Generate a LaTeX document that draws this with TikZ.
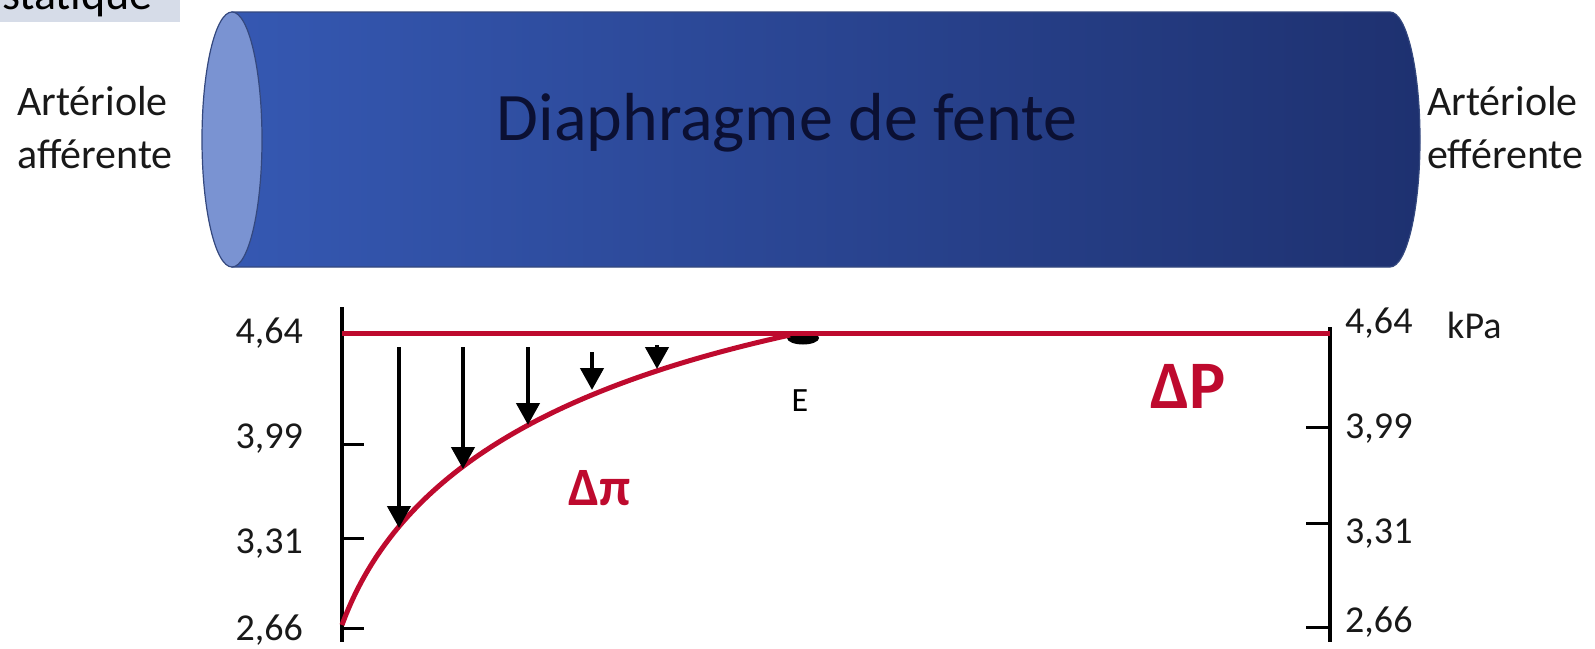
\documentclass[tikz,border=0pt]{standalone}
\usepackage{fontspec}
\setmainfont{Carlito}
\usepackage{tikz}
\usetikzlibrary{positioning,shapes.geometric,arrows.meta,calc}
\definecolor{tubeleft}{HTML}{3558B2}
\definecolor{tuberight}{HTML}{1E3170}
\definecolor{tubeface}{HTML}{7A93D2}
\definecolor{tubeedge}{HTML}{34487E}
\definecolor{curvered}{HTML}{BE0A2E}
\definecolor{banner}{HTML}{D6DCE8}
\definecolor{ink}{HTML}{0B1033}
\tikzset{
    axislabel/.style={font=\fontsize{38}{40}\selectfont, inner sep=0pt, text=black!90},
    sidelabel/.style={font=\fontsize{42}{44}\selectfont, inner sep=0pt, anchor=base west, text=black!90},
    axisline/.style={line width=3.5pt, black},
    axtick/.style={line width=3pt, black},
    pressure/.style={line width=5pt, color=curvered},
    droparrow/.style={-{Triangle[width=23pt,length=22pt]}, line width=4.5pt, black},
    deltalabel/.style={font=\bfseries, text=curvered, inner sep=0pt}
}
\begin{document}
\begin{tikzpicture}[x=1pt, y=-1pt]
\useasboundingbox (0,0) rectangle (1595,648);
\begin{scope}
\clip (0,0) rectangle (1595,648);
\fill[banner] (0,-5) rectangle (180,22);
\node[font=\fontsize{46}{50}\selectfont, anchor=base east, inner sep=0pt] (banner) at (153,9) {statique};
\end{scope}

\draw[tubeedge, line width=1.2pt, left color=tubeleft, middle color=tubeleft!80!tuberight, right color=tuberight]
    (232,12) -- (1390,12) arc[start angle=90, end angle=-90, x radius=30pt, y radius=127.5pt] -- (232,267) -- cycle;
\draw[tubeedge, line width=1.2pt, fill=tubeface] (232,139.5) ellipse[x radius=30pt, y radius=127.5pt];
\node[font=\fontsize{68}{72}\selectfont, text=ink, anchor=base, inner sep=0pt] (diaph) at (787,140) {Diaphragme de fente};

\node[sidelabel] (affA) at (17,115) {Artériole};
\node[sidelabel] (affB) at (17,168) {afférente};
\node[sidelabel] (effA) at (1427,115) {Artériole};
\node[sidelabel] (effB) at (1427,168) {efférente};

\coordinate (ltop) at (342,307);
\coordinate (lbot) at (342,642);
\coordinate (rtop) at (1330,327);
\coordinate (rbot) at (1330,642);
\draw[axisline] (ltop) -- (lbot);
\draw[axisline] (rtop) -- (rbot);
\draw[axtick] (342,444) -- (364,444);
\draw[axtick] (342,538) -- (364,538);
\draw[axtick] (342,628) -- (364,628);
\draw[axtick] (1306,427) -- (1330,427);
\draw[axtick] (1306,523) -- (1330,523);
\draw[axtick] (1306,627) -- (1330,627);

\node[axislabel, anchor=base east] (l464) at (303,343) {4,64};
\node[axislabel, anchor=base east] (l399) at (303,448) {3,99};
\node[axislabel, anchor=base east] (l331) at (303,553) {3,31};
\node[axislabel, anchor=base east] (l266) at (303,640) {2,66};
\node[axislabel, anchor=base west] (r464) at (1345,333) {4,64};
\node[axislabel, anchor=base west] (r399) at (1345,438) {3,99};
\node[axislabel, anchor=base west] (r331) at (1345,543) {3,31};
\node[axislabel, anchor=base west] (r266) at (1345,632) {2,66};
\node[axislabel, anchor=base west] (unit) at (1447,338) {kPa};

\node[ellipse, fill=black, minimum width=32pt, minimum height=13pt, inner sep=0pt] (edot) at (803,338) {};
\node[font=\fontsize{34}{36}\selectfont, anchor=base, inner sep=0pt] (elabel) at (800,411) {E};

\coordinate (pstart) at (342,333);
\coordinate (pend) at (1330,333);
\coordinate (cstart) at (342,625);
\coordinate (cend) at (790,335);
\draw[pressure] (pstart) -- (pend);
\draw[pressure] (cstart) .. controls (395,480) and (540,390) .. (cend);

\coordinate (a1top) at (399,347);
\coordinate (a1tip) at (399,528);
\coordinate (a2top) at (463,347);
\coordinate (a2tip) at (463,469);
\coordinate (a3top) at (528,347);
\coordinate (a3tip) at (528,425);
\coordinate (a4top) at (592,352);
\coordinate (a4tip) at (592,390);
\coordinate (a5top) at (657,345);
\coordinate (a5tip) at (657,369);
\draw[droparrow] (a1top) -- (a1tip);
\draw[droparrow] (a2top) -- (a2tip);
\draw[droparrow] (a3top) -- (a3tip);
\draw[droparrow] (a4top) -- (a4tip);
\draw[droparrow] (a5top) -- (a5tip);

\node[deltalabel, font=\fontsize{54}{58}\selectfont\bfseries, anchor=base] (dpi) at (600,505) {Δπ};
\node[deltalabel, font=\fontsize{68}{72}\selectfont\bfseries, anchor=base west] (dp) at (1150,408) {ΔP};
\end{tikzpicture}
\end{document}
